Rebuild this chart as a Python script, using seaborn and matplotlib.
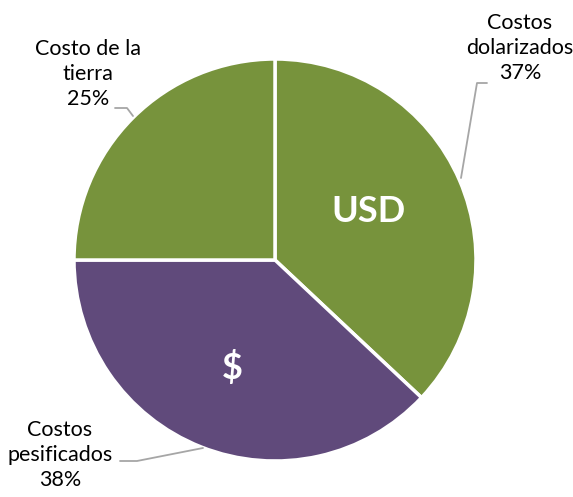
import matplotlib
matplotlib.use("Agg")
import matplotlib.pyplot as plt
import seaborn as sns

sns.set_theme(style="white")
plt.rcParams['font.family'] = ['Lato', 'DejaVu Sans']

categories = ["Costos dolarizados", "Costos pesificados", "Costo de la tierra"]
label_lines = ["Costos\ndolarizados", "Costos\npesificados", "Costo de la\ntierra"]
values = [37, 38, 25]
colors = ["#77933C", "#604A7B", "#77933C"]
inner_texts = ["USD", "$", ""]

W, H = 573, 497
fig = plt.figure(figsize=(W / 100, H / 100), dpi=100)
ax = fig.add_axes([0, 0, 1, 1])

cx, cy, r = 275, H - 260, 201
wedges, _ = ax.pie(values, colors=colors, startangle=90, counterclock=False,
                   center=(cx, cy), radius=r, frame=True,
                   wedgeprops=dict(edgecolor="white", linewidth=2.5))
ax.set_xlim(0, W)
ax.set_ylim(0, H)
ax.set_aspect("equal")
ax.axis("off")

# inner labels
inner_pos = [(369, 211), (232, 368)]
for (px, py), t in zip(inner_pos, inner_texts[:2]):
    ax.text(px, H - py, t, color="white", fontsize=26, fontweight="bold",
            ha="center", va="center")

# outer labels
label_pos = [(520, 48), (60, 455), (88, 74)]
for (px, py), name, v in zip(label_pos, label_lines, values):
    ax.text(px, H - py, f"{name}\n{v}%", fontsize=15.5, ha="center", va="center",
            color="black", linespacing=1.3)

lc = "#A6A6A6"
leaders = [
    [(461, 178), (477, 83), (487, 83)],
    [(203, 448), (137, 461), (120, 461)],
    [(133, 116), (127, 108), (115, 108)],
]
for pts in leaders:
    xs = [p[0] for p in pts]
    ys = [H - p[1] for p in pts]
    ax.plot(xs, ys, color=lc, linewidth=1.3)

fig.savefig("out.png", dpi=100)
